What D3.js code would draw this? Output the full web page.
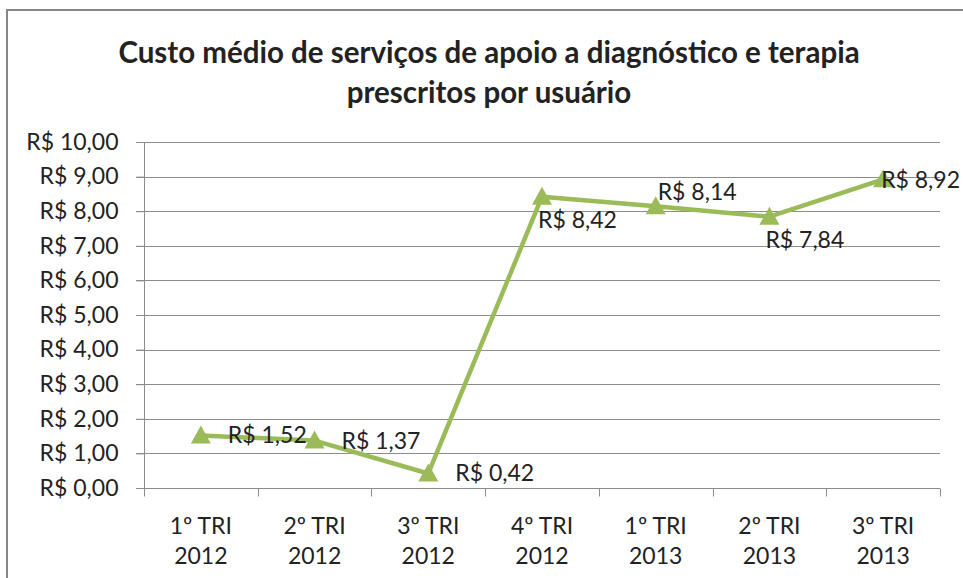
<!DOCTYPE html>
<html>
<head>
<meta charset="utf-8">
<script src="https://cdn.jsdelivr.net/npm/d3@7"></script>
<style>
  body { margin: 0; background: #fff; }
  svg text { font-family: Lato, "Open Sans", sans-serif; fill: #222; }
</style>
</head>
<body>
<svg id="chart" width="963" height="578"></svg>
<script>
// data
const quarters = ['1º TRI', '2º TRI', '3º TRI', '4º TRI', '1º TRI', '2º TRI', '3º TRI'];
const years = ['2012', '2012', '2012', '2012', '2013', '2013', '2013'];
const custo = [1.52, 1.37, 0.42, 8.42, 8.14, 7.84, 8.92];
const yTicks = [0, 1, 2, 3, 4, 5, 6, 7, 8, 9, 10];
const titleLines = ['Custo médio de serviços de apoio a diagnóstico e terapia', 'prescritos por usuário'];

// where each data label sits relative to its point
const labelPlace = ['right', 'right', 'right', 'below', 'above', 'below', 'edge'];

const width = 963, height = 578;
const margin = { left: 144, right: 23, top: 142, bottom: 90 };
const green = '#9bbb59';
const fontSize = 23;

const fmt = v => 'R$ ' + v.toFixed(2).replace('.', ',');

const svg = d3.select('svg#chart');

// outer chart border (right and bottom fall outside the picture)
svg.append('rect')
  .attr('x', 7).attr('y', 10)
  .attr('width', 1000).attr('height', 1000)
  .attr('fill', 'none')
  .attr('stroke', '#878787')
  .attr('stroke-width', 2);

const title = svg.append('text')
  .attr('text-anchor', 'middle')
  .attr('font-weight', 'bold')
  .attr('font-size', 29.5);
title.selectAll('tspan')
  .data(titleLines).enter().append('tspan')
  .attr('x', 489)
  .attr('y', (d, i) => 63 + i * 40)
  .text(d => d);

const x = d3.scaleBand()
  .domain(d3.range(custo.length))
  .range([margin.left, width - margin.right]);

const y = d3.scaleLinear()
  .domain([0, 10])
  .range([height - margin.bottom, margin.top]);

// gridlines
svg.append('g')
  .selectAll('line')
  .data(yTicks.filter(d => d > 0)).enter().append('line')
  .attr('x1', margin.left - 8)
  .attr('x2', width - margin.right)
  .attr('y1', d => Math.round(y(d)) + 0.5)
  .attr('y2', d => Math.round(y(d)) + 0.5)
  .attr('stroke', '#8c8c8c')
  .attr('stroke-width', 1);

// y axis
const yAxis = svg.append('g')
  .attr('transform', 'translate(' + (margin.left + 0.5) + ',0)')
  .call(d3.axisLeft(y).tickValues(yTicks).tickSize(8).tickPadding(18).tickFormat(fmt));
yAxis.selectAll('text').attr('font-size', fontSize).style('font-family', 'Lato, sans-serif').attr('fill', '#222');
yAxis.selectAll('line, path').attr('stroke', '#8c8c8c');
yAxis.select('path').attr('d', 'M0,' + y(10) + 'V' + y(0));

// x axis
const xAxis = svg.append('g')
  .attr('transform', 'translate(0,' + (Math.round(y(0)) + 0.5) + ')');
xAxis.append('line')
  .attr('x1', margin.left - 8).attr('x2', width - margin.right)
  .attr('stroke', '#8c8c8c');
xAxis.selectAll('.tk')
  .data(d3.range(custo.length + 1)).enter().append('line')
  .attr('x1', d => Math.round(margin.left + d * x.step()) + 0.5)
  .attr('x2', d => Math.round(margin.left + d * x.step()) + 0.5)
  .attr('y1', 0).attr('y2', 8)
  .attr('stroke', '#8c8c8c');
const xl = xAxis.selectAll('.lbl')
  .data(quarters).enter().append('text')
  .attr('text-anchor', 'middle')
  .attr('font-size', fontSize);
xl.append('tspan')
  .attr('x', (d, i) => x(i) + x.bandwidth() / 2)
  .attr('y', 45)
  .text(d => d);
xl.append('tspan')
  .attr('x', (d, i) => x(i) + x.bandwidth() / 2)
  .attr('y', 75)
  .text((d, i) => years[i]);

// line
const cx = i => x(i) + x.bandwidth() / 2;
svg.append('path')
  .datum(custo)
  .attr('fill', 'none')
  .attr('stroke', green)
  .attr('stroke-width', 4.5)
  .attr('stroke-linejoin', 'round')
  .attr('d', d3.line().x((d, i) => cx(i)).y(d => y(d)));

// markers
svg.append('g')
  .selectAll('path')
  .data(custo).enter().append('path')
  .attr('transform', (d, i) => 'translate(' + cx(i) + ',' + y(d) + ')')
  .attr('d', 'M0,-10L10,8L-10,8Z')
  .attr('fill', green);

// data labels
const off = {
  right: { dx: 27, dy: 8 },
  below: { dx: -4, dy: 31 },
  above: { dx: 2, dy: -6 },
  edge: { dx: -2, dy: 9 }
};
svg.append('g')
  .selectAll('text')
  .data(custo).enter().append('text')
  .attr('x', (d, i) => cx(i) + off[labelPlace[i]].dx)
  .attr('y', (d, i) => y(d) + off[labelPlace[i]].dy)
  .attr('font-size', fontSize)
  .text(fmt);
</script>
</body>
</html>
